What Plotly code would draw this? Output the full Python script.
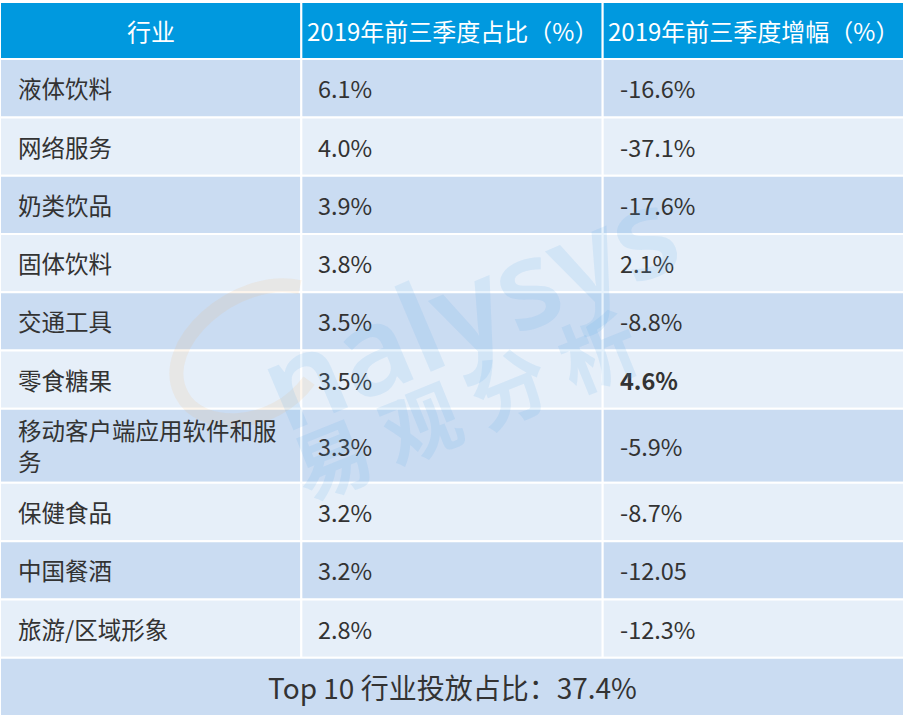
import plotly.graph_objects as go

# table content
headers = ["行业", "2019年前三季度占比（%）", "2019年前三季度增幅（%）"]
industries = ["液体饮料", "网络服务", "奶类饮品", "固体饮料", "交通工具", "零食糖果",
              "移动客户端应用软件和服<br>务", "保健食品", "中国餐酒", "旅游/区域形象"]
share = ["6.1%", "4.0%", "3.9%", "3.8%", "3.5%", "3.5%", "3.3%", "3.2%", "3.2%", "2.8%"]
growth = ["-16.6%", "-37.1%", "-17.6%", "2.1%", "-8.8%", "<b>4.6%</b>", "-5.9%", "-8.7%", "-12.05", "-12.3%"]
footer = "Top 10 行业投放占比：37.4%"

HEAD = "#0099df"
ODD = "#cadcf2"
EVEN = "#e6eff9"
TXT = "#333333"
FONT = "Noto Sans CJK SC"
WM = "rgba(90,170,235,0.14)"
W, H = 909, 718

# row heights in row units (header, body rows, footer)
body_h = [1.27 if "<br>" in s else 1 for s in industries]
heights = [0.98] + body_h + [1]
tops = [sum(heights[:i]) for i in range(len(heights))]
total = sum(heights)
columns = [industries, share, growth]

fig = go.Figure()
shapes, notes = [], []

def cell(x0, x1, r, fill):
    shapes.append(dict(type="rect", xref="x", yref="y", x0=x0, x1=x1,
                       y0=tops[r], y1=tops[r] + heights[r], fillcolor=fill,
                       line=dict(color="white", width=2), layer="below"))

# header
for c, h in enumerate(headers):
    cell(c, c + 1, 0, HEAD)
    notes.append(dict(x=c + 0.5, y=tops[0] + heights[0] / 2, text=h, showarrow=False,
                      xref="x", yref="y", font=dict(family=FONT, size=24, color="white")))

# body
for i in range(len(industries)):
    r = i + 1
    fill = ODD if i % 2 == 0 else EVEN
    for c, col in enumerate(columns):
        cell(c, c + 1, r, fill)
        notes.append(dict(x=c, y=tops[r] + heights[r] / 2, text=col[i], showarrow=False,
                          xref="x", yref="y", xanchor="left", align="left",
                          xshift=15 if c else 16,
                          font=dict(family=FONT, size=23.5, color=TXT)))

# footer
r = len(heights) - 1
cell(0, 3, r, ODD)
notes.append(dict(x=1.5, y=tops[r] + heights[r] / 2, text=footer, showarrow=False,
                  xref="x", yref="y", font=dict(family=FONT, size=28, color=TXT)))

# watermark
notes.append(dict(x=0.515, y=0.575, xref="paper", yref="paper", text="nalysys",
                  showarrow=False, textangle=-23,
                  font=dict(family="Noto Sans", size=122, color=WM, weight=600)))
notes.append(dict(x=0.51, y=0.44, xref="paper", yref="paper", text="<b>易 观 分 析</b>",
                  showarrow=False, textangle=-22,
                  font=dict(family=FONT, size=78, color=WM)))
shapes.append(dict(type="path", xref="paper", yref="paper",
                   path="M 0.33,0.60 C 0.26,0.62 0.17,0.52 0.20,0.45 "
                        "C 0.22,0.40 0.30,0.40 0.34,0.47",
                   line=dict(color="rgba(240,180,110,0.13)", width=14), layer="above"))

fig.add_trace(go.Scatter(x=[0, 3], y=[0, total], mode="markers",
                         marker=dict(opacity=0), hoverinfo="skip", showlegend=False))

fig.update_layout(width=W, height=H, margin=dict(l=0, r=0, t=0, b=0),
                  paper_bgcolor="white", plot_bgcolor="white",
                  shapes=shapes, annotations=notes,
                  xaxis=dict(range=[0, 3], domain=[0, 904 / W], visible=False, fixedrange=True),
                  yaxis=dict(range=[total, 0], domain=[1 - 716 / H, 1 - 2 / H],
                             visible=False, fixedrange=True))

fig.write_html("out.html", config={"displayModeBar": False},
               post_script="document.body.style.margin = '0';")
